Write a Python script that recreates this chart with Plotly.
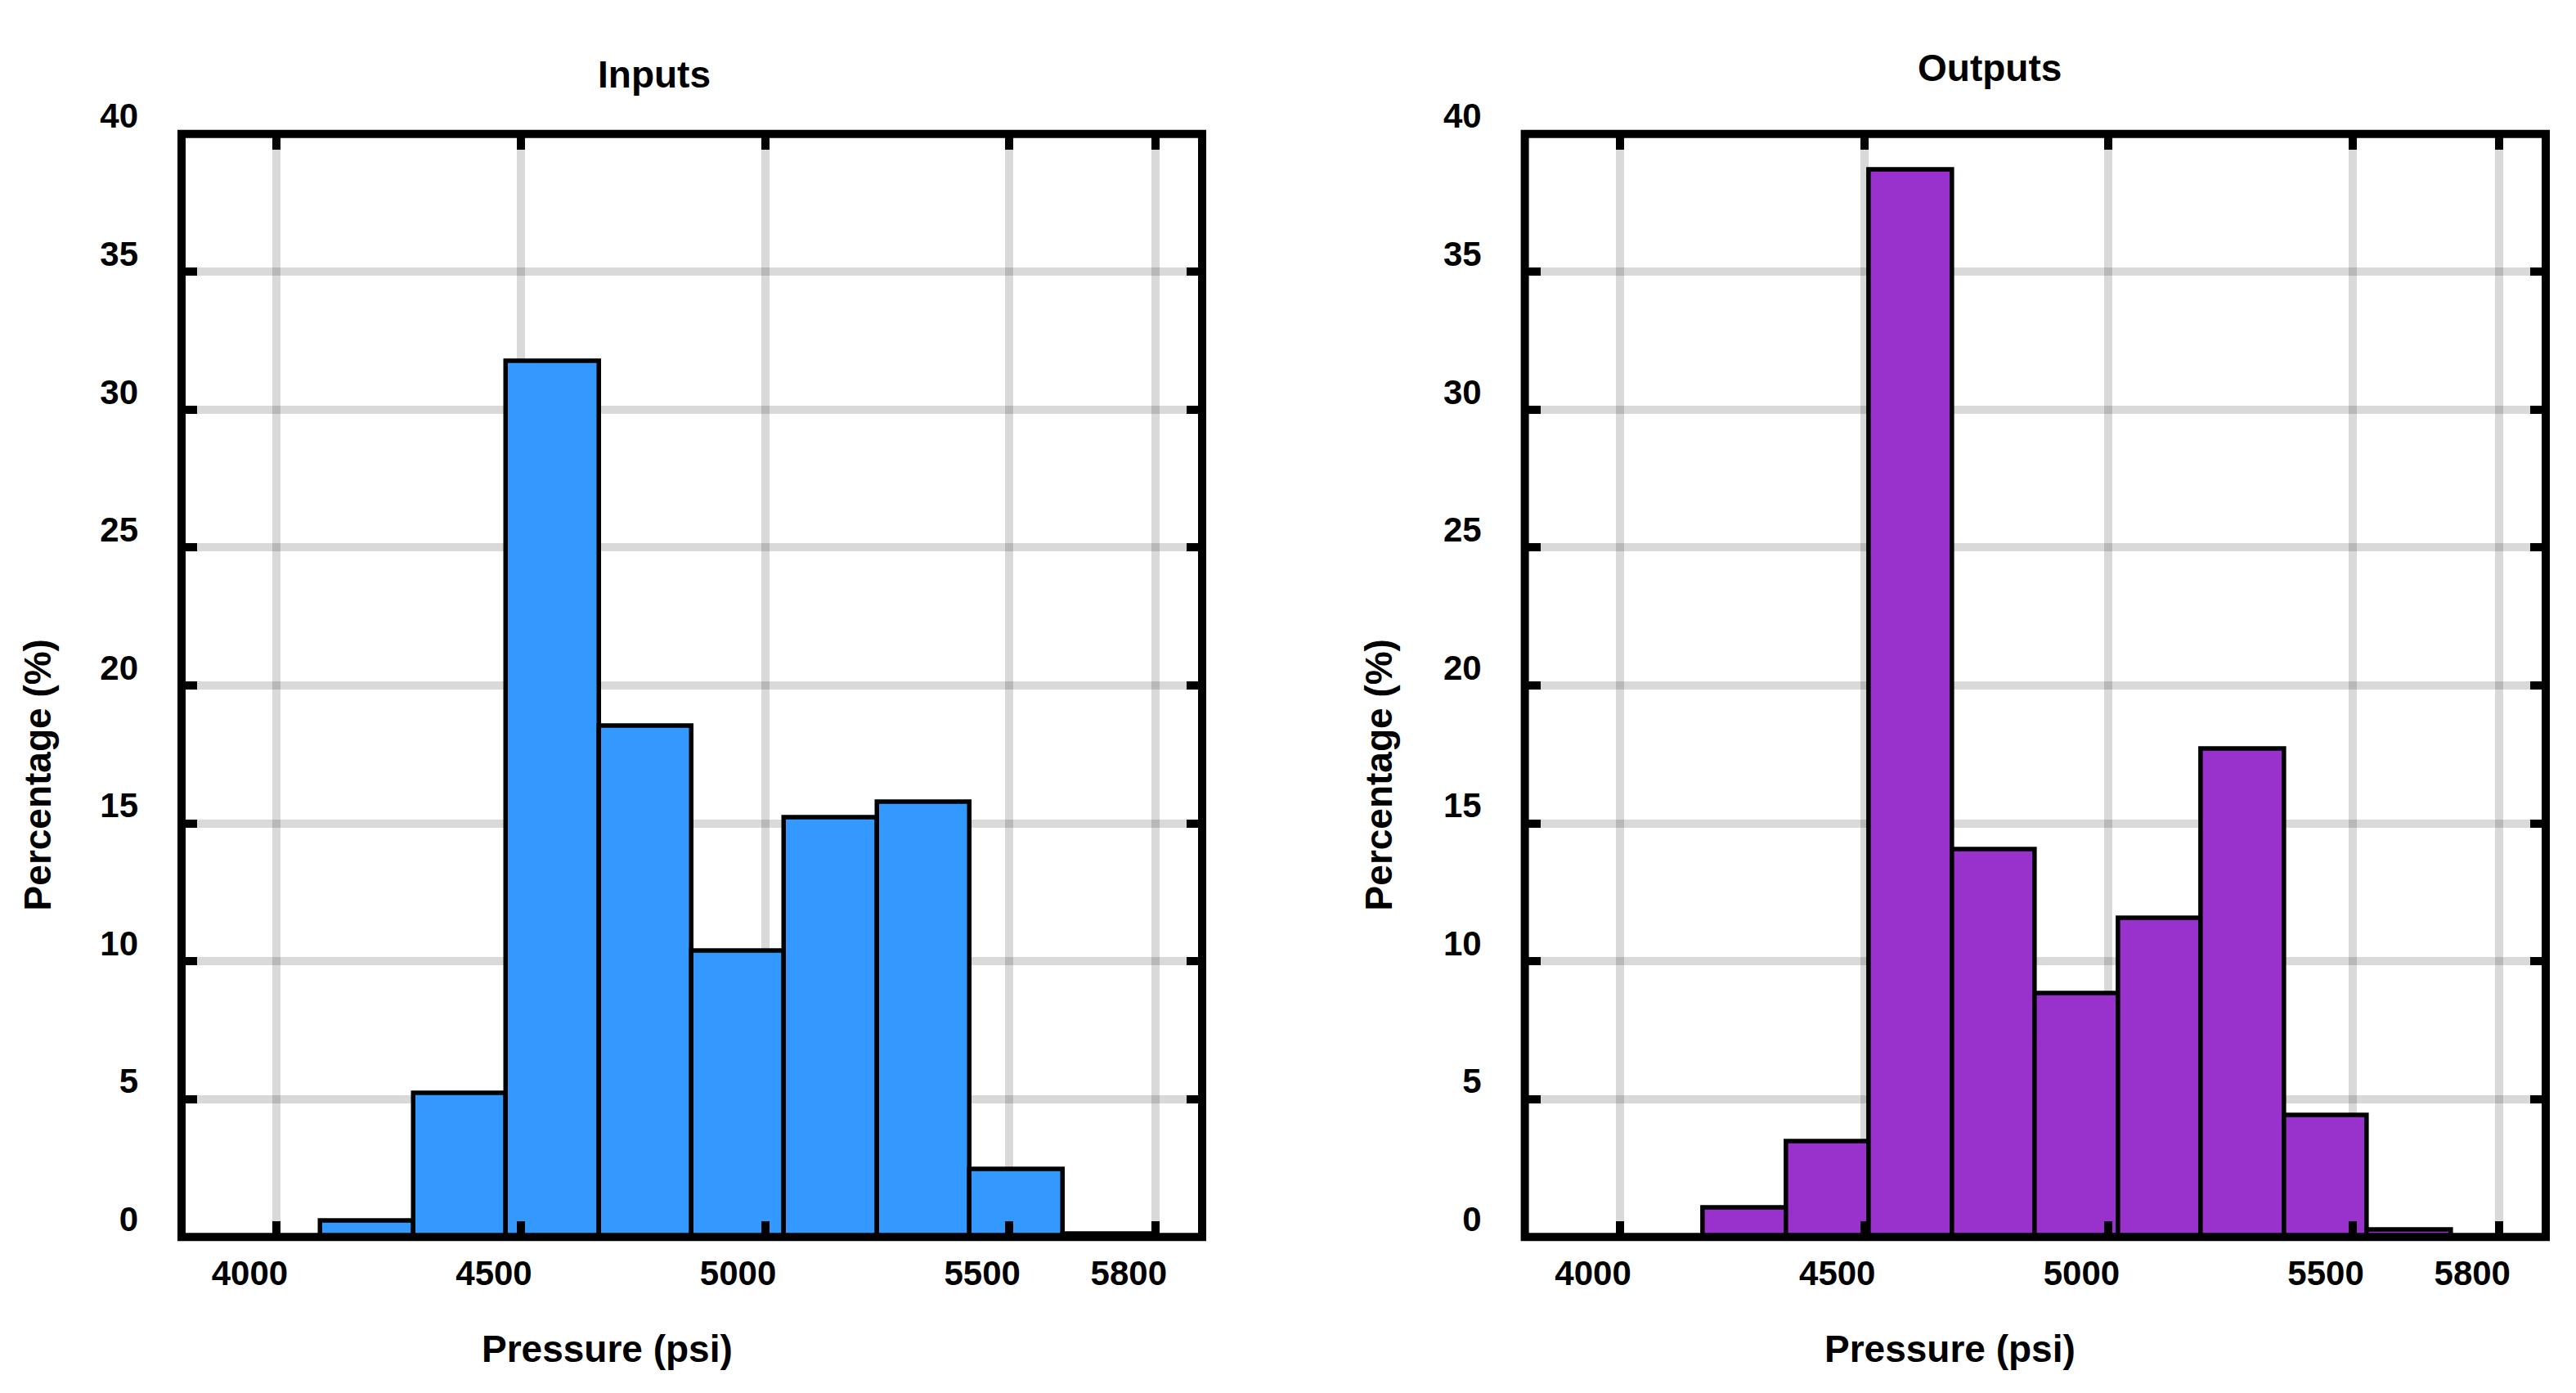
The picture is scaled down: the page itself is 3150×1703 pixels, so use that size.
import plotly.graph_objects as go

# ---- data ----
input_edges = [4090, 4280, 4470, 4660, 4850, 5040, 5230, 5420, 5610, 5800]
input_pct = [0.58, 5.22, 31.75, 18.53, 10.38, 15.21, 15.76, 2.45, 0.12]

output_edges = [4170, 4340, 4510, 4680, 4850, 5020, 5190, 5360, 5530, 5702]
output_pct = [1.06, 3.45, 38.7, 14.05, 8.82, 11.56, 17.70, 4.41, 0.27]

x_tickvals = [4000, 4500, 5000, 5500, 5800]
x_ticktext = ["4000", "4500", "5000", "5500", "5800"]
y_tickvals = [0, 5, 10, 15, 20, 25, 30, 35, 40]
y_ticktext = ["0", "5", "10", "15", "20", "25", "30", "35", "40"]

titles = ["Inputs", "Outputs"]
x_title = "Pressure (psi)"
y_title = "Percentage (%)"
colors = ["#3399FF", "#9932CC"]

W, H = 3150, 1703
FONT = "Liberation Sans, Arial, Helvetica, sans-serif"


def px(x):
    return x / W


def py(y):
    return 1 - y / H


def centers_widths(edges):
    c = [(edges[i] + edges[i + 1]) / 2 for i in range(len(edges) - 1)]
    w = [edges[i + 1] - edges[i] for i in range(len(edges) - 1)]
    return c, w


fig = go.Figure()

panels = [
    dict(edges=input_edges, vals=input_pct, color=colors[0], xdom=(222, 1470)),
    dict(edges=output_edges, vals=output_pct, color=colors[1], xdom=(1864.6, 3113)),
]

ytop, ybot = 122, 1509

for i, p in enumerate(panels):
    sfx = "" if i == 0 else "2"
    c, w = centers_widths(p["edges"])
    fig.add_trace(go.Bar(
        x=c, y=p["vals"], width=w,
        marker=dict(color=p["color"], line=dict(color="black", width=5.5)),
        xaxis="x" + sfx, yaxis="y" + sfx, showlegend=False,
    ))
    tick_font = dict(family=FONT, size=42, color="black", weight="bold")
    fig.update_layout(**{
        "xaxis" + sfx: dict(
            domain=[px(p["xdom"][0]), px(p["xdom"][1])],
            range=[3805, 5895],
            tickmode="array", tickvals=x_tickvals, ticktext=x_ticktext,
            ticks="inside", ticklen=19, tickwidth=10, tickcolor="black",
            mirror="ticks", showline=False, zeroline=False,
            showgrid=True, gridcolor="rgba(0,0,0,0.15)", gridwidth=10,
            tickfont=tick_font, ticklabelshift=-33, ticklabelstandoff=16,
            anchor="y" + sfx, fixedrange=True,
        ),
        "yaxis" + sfx: dict(
            domain=[py(ybot), py(ytop)],
            range=[0, 40],
            tickmode="array", tickvals=y_tickvals, ticktext=y_ticktext,
            ticks="inside", ticklen=19, tickwidth=10, tickcolor="black",
            mirror="ticks", showline=False, zeroline=False,
            showgrid=True, gridcolor="rgba(0,0,0,0.15)", gridwidth=10,
            tickfont=tick_font, ticklabelshift=-22, ticklabelstandoff=52,
            anchor="x" + sfx, fixedrange=True,
        ),
    })
    # black frame around each panel
    fig.add_shape(type="rect", xref="x" + sfx + " domain", yref="y" + sfx + " domain",
                  x0=0, x1=1, y0=0, y1=1, line=dict(color="black", width=10),
                  layer="above")

title_font = dict(family=FONT, size=46, color="black", weight="bold")
fig.add_annotation(x=px(800), y=py(47), xref="paper", yref="paper", text=titles[0],
                   showarrow=False, font=title_font, xanchor="center", yanchor="middle")
fig.add_annotation(x=px(2433), y=py(39), xref="paper", yref="paper", text=titles[1],
                   showarrow=False, font=title_font, xanchor="center", yanchor="middle")
for xc in (742, 2384):
    fig.add_annotation(x=px(xc), y=py(1650), xref="paper", yref="paper", text=x_title,
                       showarrow=False, font=title_font, xanchor="center", yanchor="middle")
for xc in (46, 1686):
    fig.add_annotation(x=px(xc), y=py(928), xref="paper", yref="paper", text=y_title,
                       showarrow=False, font=title_font, textangle=-90,
                       xanchor="center", yanchor="middle")

fig.update_layout(
    width=W, height=H, autosize=False,
    margin=dict(l=0, r=0, t=0, b=0),
    paper_bgcolor="white", plot_bgcolor="white",
    bargap=0,
)

fig.write_html(
    "out.html",
    config={"displayModeBar": False},
    post_script=(
        "document.body.style.margin='0';document.body.style.overflow='hidden';"
        "document.documentElement.style.overflow='hidden';window.scrollTo(0,0);"
    ),
)
